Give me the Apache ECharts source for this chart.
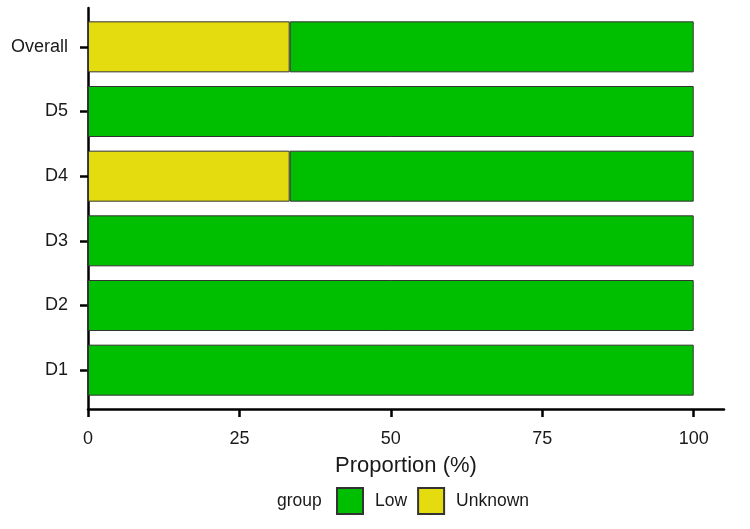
<!DOCTYPE html>
<html lang="en">
<head>
    <meta charset="UTF-8">
    <title>Proportion by domain</title>
    <script src="https://cdn.jsdelivr.net/npm/echarts@6/dist/echarts.min.js"></script>
    <style>
        html, body { margin: 0; padding: 0; background: #fff; }
    </style>
</head>
<body>
    <div id="main" style="width: 750px;height:529px;"></div>
    <script>
        // categories, bottom to top
        var domains = ['D1', 'D2', 'D3', 'D4', 'D5', 'Overall'];
        // proportions (%)
        var unknownVals = [0, 0, 0, 33.3, 0, 33.3];
        var lowVals = [100, 100, 100, 66.7, 100, 66.7];
        var xTicks = [0, 25, 50, 75, 100];

        var textCol = '#1a1a1a';
        var font = 'Liberation Sans';

        var myChart = echarts.init(document.getElementById('main'));
        var option = {
            animation: false,
            textStyle: { fontFamily: font },
            grid: [
                // bars: band area (0.6 band expansion inside the axis lines)
                { left: 88, right: 26, top: 14.5, height: 388, containLabel: false },
                // axis lines grid
                { left: 88, right: 26, top: 8, height: 401, containLabel: false }
            ],
            xAxis: [{
                gridIndex: 0,
                type: 'value',
                min: 0,
                max: 105,
                show: false
            }, {
                gridIndex: 1,
                type: 'value',
                min: 0,
                max: 105,
                interval: 25,
                axisLine: { show: true, lineStyle: { color: '#000', width: 2.5 } },
                axisTick: { show: true, length: 8, customValues: xTicks, lineStyle: { color: '#000', width: 2.5 } },
                axisLabel: {
                    margin: 21,
                    fontSize: 18,
                    color: textCol,
                    customValues: xTicks,
                    formatter: function (v) { return xTicks.indexOf(v) >= 0 ? String(v) : ''; }
                },
                splitLine: { show: false },
                name: 'Proportion (%)',
                nameLocation: 'middle',
                nameGap: 46,
                nameTextStyle: { fontSize: 22, color: textCol }
            }],
            yAxis: [{
                gridIndex: 0,
                type: 'category',
                data: domains,
                axisLine: { show: false },
                axisTick: { show: true, length: 8, alignWithLabel: true, lineStyle: { color: '#000', width: 2.5 } },
                axisLabel: { margin: 20, fontSize: 18, color: textCol }
            }, {
                gridIndex: 1,
                type: 'value',
                min: 0,
                max: 1,
                axisLine: { show: true, lineStyle: { color: '#000', width: 2.5 } },
                axisTick: { show: false },
                axisLabel: { show: false },
                splitLine: { show: false }
            }],
            legend: {
                data: ['Low', 'Unknown'],
                left: 331,
                top: 482,
                icon: 'rect',
                itemWidth: 26,
                itemHeight: 26,
                itemGap: 10,
                textStyle: { fontSize: 17.5, color: textCol, padding: [0, 0, 0, 7] }
            },
            graphic: [{
                type: 'text',
                left: 277,
                top: 492,
                style: { text: 'group', fontSize: 17.5, fill: textCol, fontFamily: font }
            }],
            series: [{
                name: 'Unknown',
                type: 'bar',
                stack: 'p',
                xAxisIndex: 0,
                yAxisIndex: 0,
                barWidth: 51,
                itemStyle: { color: '#E5DC10', borderColor: '#333', borderWidth: 1 },
                data: unknownVals
            }, {
                name: 'Low',
                type: 'bar',
                stack: 'p',
                xAxisIndex: 0,
                yAxisIndex: 0,
                barWidth: 51,
                itemStyle: { color: '#00BE00', borderColor: '#333', borderWidth: 1 },
                data: lowVals
            }]
        };
        myChart.setOption(option);
    </script>
</body>
</html>
